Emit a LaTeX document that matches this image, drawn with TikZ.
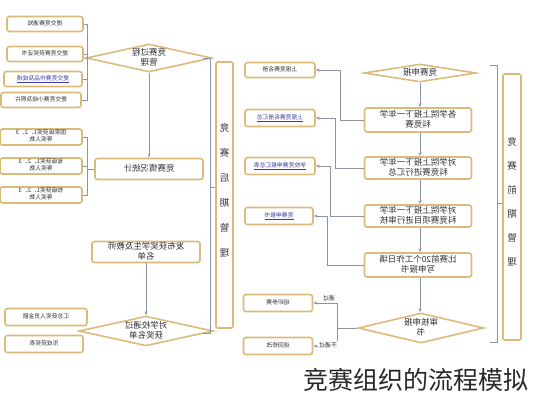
\documentclass[tikz,border=0pt]{standalone}
\usepackage{fontspec}
\usepackage{graphicx}
\newfontfamily\cjk{Noto Sans CJK SC}
\usetikzlibrary{shapes.geometric,arrows.meta}
\definecolor{boxc}{RGB}{220,186,122}
\definecolor{linec}{RGB}{135,150,170}
\definecolor{txtc}{RGB}{50,50,50}
\definecolor{linkc}{RGB}{60,60,160}
\definecolor{capc}{RGB}{40,40,40}
\newcommand\mtx[1]{\reflectbox{\begin{tabular}{@{}c@{}}#1\end{tabular}}}
\newcommand\mlink[1]{\reflectbox{\textcolor{linkc}{\underline{#1}}}}
\begin{document}
\begin{tikzpicture}[x=1pt,y=-1pt,
 box/.style={draw=boxc, line width=1.6pt, rounded corners=2.5pt, fill=white, text=txtc, inner sep=0pt, font=\cjk\fontsize{8.5}{10}\selectfont},
 sbox/.style={box, font=\cjk\fontsize{5.8}{6.8}\selectfont},
 dia/.style={diamond, draw=boxc, line width=1.6pt, fill=white, text=txtc, inner sep=0pt, aspect=4.5, font=\cjk\fontsize{8.5}{10}\selectfont},
 banner/.style={draw=boxc, line width=1.6pt, rounded corners=1.5pt, fill=white, text=txtc, inner sep=0pt, align=center},
 conn/.style={draw=linec, line width=0.7pt},
 arr/.style={conn, -{Stealth[length=4pt,width=3pt]}},
 lbl/.style={font=\cjk\fontsize{6}{7}\selectfont, text=txtc, inner sep=1pt}
]
\useasboundingbox (0,0) rectangle (533,400);

% ---------- left side groups ----------
\node[sbox, minimum width=76pt, minimum height=15pt] (L1) at (45,24) {\mtx{提交竞赛通知}};
\node[sbox, minimum width=76pt, minimum height=15pt] (L2) at (45,54) {\mtx{提交竞赛获奖证书}};
\node[sbox, minimum width=78pt, minimum height=15pt] (L3) at (43,79) {\mlink{提交竞赛作品及成绩}};
\node[sbox, minimum width=80pt, minimum height=15pt] (L4) at (41,100) {\mtx{提交竞赛小结及照片}};

\node[sbox, minimum width=82pt, minimum height=16pt] (G1) at (41,137) {\mtx{国家级获奖1、2、3\\等奖人数}};
\node[sbox, minimum width=82pt, minimum height=16pt] (G2) at (41,166) {\mtx{省级获奖1、2、3\\等奖人数}};
\node[sbox, minimum width=82pt, minimum height=16pt] (G3) at (41,195) {\mtx{校级获奖1、2、3\\等奖人数}};

\node[sbox, minimum width=82pt, minimum height=17pt] (H1) at (46,317) {\mtx{汇总获奖人员金额}};
\node[sbox, minimum width=78pt, minimum height=17pt] (H2) at (44,344) {\mtx{形成获奖表}};

% ---------- left main column ----------
\node[dia, minimum width=114pt, minimum height=24pt] (D1) at (149,58) {\mtx{竞赛过程\\管理}};
\node[box, minimum width=108pt, minimum height=21pt] (C1) at (149,169) {\mtx{竞赛情况统计}};
\node[box, minimum width=108pt, minimum height=21pt] (P1) at (146,252) {\mtx{发布获奖学生及教师\\名单}};
\node[dia, minimum width=115pt, minimum height=26pt] (D2) at (146,331) {\mtx{对学校通过\\获奖名单}};

\draw[arr] (D1.south) -- (C1.north);
\draw[arr] (P1.south) -- (D2.north);

\coordinate (g1) at (87,58);
\draw[conn] (L1.east) -- (L1.east -| g1) -- (L4.east -| g1) -- (L4.east);
\draw[conn] (L2.east) -- (L2.east -| g1);
\draw[conn] (L3.east) -- (L3.east -| g1);
\draw[conn] (g1) -- (D1.west);

\coordinate (g2) at (87,169);
\draw[conn] (G1.east) -- (G1.east -| g2) -- (G3.east -| g2) -- (G3.east);
\draw[conn] (G2.east) -- (G2.east -| g2);
\draw[conn] (g2) -- (C1.west);

% ---------- left banner ----------
\node[banner, minimum width=17pt, minimum height=266pt] (B1) at (224.5,195) {};
\node[font=\cjk\fontsize{9.5}{25}\selectfont, text=txtc, align=center, inner sep=0pt] (B1t) at (224.5,190)
  {\reflectbox{竞}\\\reflectbox{赛}\\\reflectbox{后}\\\reflectbox{期}\\\reflectbox{管}\\\reflectbox{理}};
\coordinate (lb) at (210,187);
\draw[conn] (203,58) -- (210,58) -- (210,333) -- (203,333);
\draw[conn] (lb) -- (lb -| B1.west);

% ---------- right side boxes ----------
\node[sbox, minimum width=70pt, minimum height=15pt] (S1) at (280,70) {\mtx{上报竞赛名册}};
\node[sbox, minimum width=70pt, minimum height=17pt] (S2) at (280,118) {\mlink{上报竞赛名册汇总}};
\node[sbox, minimum width=70pt, minimum height=17pt] (S3) at (280,166) {\mlink{学校竞赛申报汇总表}};
\node[sbox, minimum width=68pt, minimum height=17pt] (S4) at (279,216) {\mlink{竞赛申报书}};
\node[sbox, minimum width=69pt, minimum height=17pt] (S5) at (278,303) {\mtx{组织参赛}};
\node[sbox, minimum width=69pt, minimum height=17pt] (S6) at (278,346) {\mtx{退回修改}};

% ---------- right main column ----------
\node[dia, minimum width=112pt, minimum height=18pt] (R0) at (420,73) {\mtx{竞赛申报}};
\node[box, minimum width=107pt, minimum height=24pt] (R1) at (418,120) {\mtx{各学院上报下一年学\\科竞赛}};
\node[box, minimum width=107pt, minimum height=22pt] (R2) at (418,168) {\mtx{对学院上报下一年学\\科竞赛进行汇总}};
\node[box, minimum width=107pt, minimum height=22pt] (R3) at (418,216) {\mtx{对学院上报下一年学\\科竞赛项目进行审核}};
\node[box, minimum width=107pt, minimum height=24pt] (R4) at (418,265) {\mtx{比赛前20个工作日填\\写申报书}};
\node[dia, minimum width=115pt, minimum height=30pt] (R5) at (421,328) {\mtx{审核申报\\书}};

\coordinate (vx) at (420,0);
\draw[arr] (R0.south -| vx) -- (R1.north -| vx);
\draw[arr] (R1.south -| vx) -- (R2.north -| vx);
\draw[arr] (R2.south -| vx) -- (R3.north -| vx);
\draw[arr] (R3.south -| vx) -- (R4.north -| vx);
\draw[arr] (R4.south -| vx) -- (R5.north -| vx);

\coordinate (k1) at (340,0);
\coordinate (k2) at (335,0);
\coordinate (k3) at (330,0);
\coordinate (k4) at (327,0);
\coordinate (k5) at (337,0);
\draw[arr] (R1.west) -- (R1.west -| k1) |- (S1.east);
\draw[arr] (R2.west) -- (R2.west -| k2) |- (S2.east);
\draw[arr] (R3.west) -- (R3.west -| k3) |- (S3.east);
\draw[arr] (R4.west) -- (R4.west -| k4) |- (S4.east);
\draw[conn] (R5.west) -- (R5.west -| k5);
\draw[arr] (R5.west -| k5) |- (S5.east);
\draw[arr] (R5.west -| k5) |- (S6.east);
\node[lbl, anchor=south] (t1) at (329,302) {\reflectbox{通过}};
\node[lbl, fill=white] (t2) at (328,345) {\reflectbox{不通过}};

% ---------- right banner ----------
\node[banner, minimum width=18pt, minimum height=266pt] (B2) at (512,207) {};
\node[font=\cjk\fontsize{9.5}{24}\selectfont, text=txtc, align=center, inner sep=0pt] (B2t) at (512,202)
  {\reflectbox{竞}\\\reflectbox{赛}\\\reflectbox{前}\\\reflectbox{期}\\\reflectbox{管}\\\reflectbox{理}};
\coordinate (rb) at (497,203);
\draw[conn] (490,65) -- (497,65) -- (497,342) -- (490,342);
\draw[conn] (rb) -- (rb -| B2.west);

% ---------- caption ----------
\node[font=\cjk\fontsize{25}{27}\selectfont, text=capc, inner sep=0pt] (cap) at (416,380) {竞赛组织的流程模拟};
\end{tikzpicture}
\end{document}
